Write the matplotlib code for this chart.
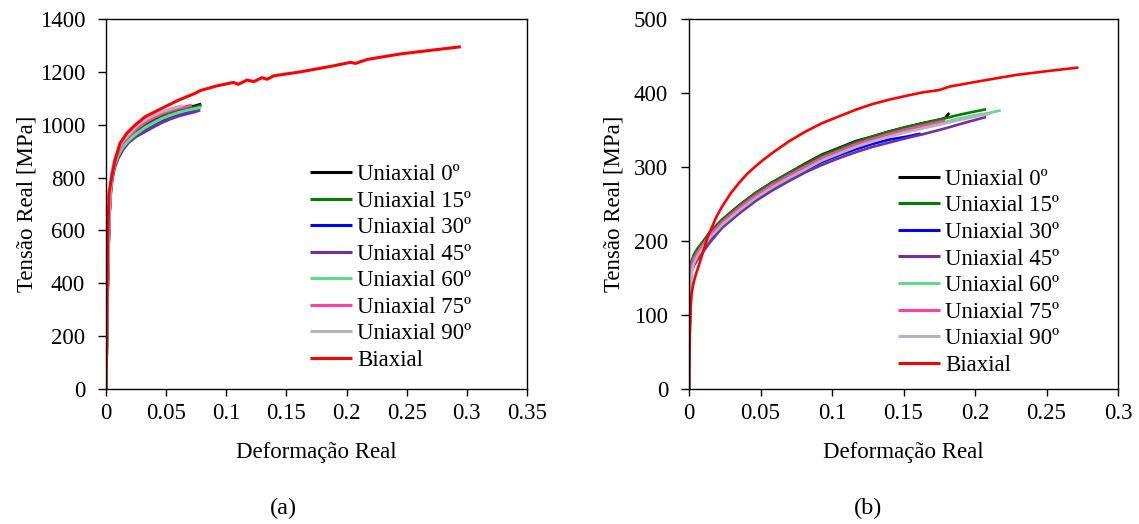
import matplotlib
matplotlib.use("Agg")
import matplotlib.pyplot as plt

plt.rcParams["font.family"] = ["Liberation Serif", "DejaVu Serif"]
plt.rcParams["font.size"] = 16.5

labels = ["Uniaxial 0º", "Uniaxial 15º", "Uniaxial 30º", "Uniaxial 45º",
          "Uniaxial 60º", "Uniaxial 75º", "Uniaxial 90º", "Biaxial"]
colors = ["#000000", "#008000", "#0000ff", "#7030a0",
          "#5edc8c", "#ff3fa0", "#b4b4bc", "#ff0000"]

# ---- (a) strain / stress curves ----
a_uni0_x = [0, 0.0008, 0.0015, 0.0025, 0.0035, 0.005, 0.007, 0.01, 0.014, 0.0186, 0.025,
            0.0325, 0.04, 0.0464, 0.053, 0.0603, 0.067, 0.0742, 0.0792]
a_uni0_y = [0, 250, 450, 640, 740, 810, 855, 893, 925, 948, 975,
            999, 1018, 1033, 1045, 1056, 1064, 1071, 1078]
a_uni15_x = [0, 0.0008, 0.0015, 0.0025, 0.0035, 0.005, 0.007, 0.01, 0.014, 0.0186, 0.025,
             0.0325, 0.04, 0.0464, 0.053, 0.0603, 0.067, 0.0742, 0.0792]
a_uni15_y = [0, 245, 445, 635, 735, 805, 850, 888, 920, 944, 970,
             994, 1013, 1028, 1040, 1051, 1059, 1066, 1073]
a_uni30_x = [0, 0.0008, 0.0015, 0.0025, 0.0035, 0.005, 0.007, 0.01, 0.014, 0.0186, 0.025,
             0.0325, 0.04, 0.0464, 0.053, 0.0603, 0.067, 0.0742, 0.078]
a_uni30_y = [0, 240, 440, 630, 730, 800, 845, 882, 912, 937, 962,
             986, 1004, 1019, 1031, 1042, 1050, 1057, 1062]
a_uni45_x = [0, 0.0008, 0.0015, 0.0025, 0.0035, 0.005, 0.007, 0.01, 0.014, 0.0186, 0.025,
             0.0325, 0.04, 0.0464, 0.053, 0.0603, 0.067, 0.0742, 0.0783]
a_uni45_y = [0, 235, 430, 620, 720, 790, 835, 872, 905, 932, 955,
             974, 993, 1008, 1021, 1033, 1041, 1049, 1056]
a_uni60_x = [0, 0.0008, 0.0015, 0.0025, 0.0035, 0.005, 0.007, 0.01, 0.014, 0.0186, 0.025,
             0.0325, 0.04, 0.0464, 0.053, 0.0603, 0.067, 0.0742, 0.079]
a_uni60_y = [0, 240, 440, 630, 732, 802, 846, 884, 915, 940, 965,
             989, 1008, 1023, 1035, 1046, 1054, 1061, 1066]
a_uni75_x = [0, 0.0008, 0.0015, 0.0025, 0.0035, 0.005, 0.007, 0.01, 0.014, 0.0186, 0.025,
             0.0325, 0.04, 0.0464, 0.053, 0.0603, 0.067, 0.0714]
a_uni75_y = [0, 250, 455, 645, 745, 815, 860, 898, 932, 955, 983,
             1008, 1027, 1041, 1052, 1062, 1069, 1074]
a_uni90_x = [0, 0.0008, 0.0015, 0.0025, 0.0035, 0.005, 0.007, 0.01, 0.014, 0.0186, 0.025,
             0.0325, 0.04, 0.0464, 0.053, 0.0603, 0.0636]
a_uni90_y = [0, 255, 460, 650, 752, 822, 868, 905, 940, 961, 993,
             1018, 1036, 1049, 1059, 1068, 1072]
a_biax_x = [0, 0.0005, 0.0014, 0.0025, 0.0047, 0.0075, 0.0117, 0.0172, 0.0242, 0.0325,
            0.0464, 0.0603, 0.0742, 0.0783, 0.0922, 0.106, 0.110, 0.1172, 0.1228, 0.1297,
            0.134, 0.1394, 0.1617, 0.1894, 0.2033, 0.2075, 0.2172, 0.245, 0.2728, 0.295]
a_biax_y = [0, 200, 552, 741, 803, 866, 930, 967, 999, 1030,
            1062, 1093, 1119, 1129, 1147, 1160, 1153, 1169, 1163, 1178,
            1172, 1185, 1200, 1223, 1236, 1232, 1247, 1268, 1283, 1295]

# ---- (b) strain / stress curves ----
b_uni0_x = [0, 0.0004, 0.0008, 0.0013, 0.002, 0.0035, 0.006, 0.01, 0.015, 0.0233, 0.035,
            0.0466, 0.058, 0.0699, 0.0816, 0.0932, 0.105, 0.1166, 0.128, 0.14, 0.152,
            0.163, 0.175, 0.179, 0.182]
b_uni0_y = [0, 70, 130, 160, 172, 180, 188, 199, 212, 229, 248,
            265, 279, 292, 305, 317, 326, 335, 341, 348, 354,
            359, 364, 366, 373]
b_uni15_x = [0, 0.0004, 0.0008, 0.0013, 0.002, 0.0035, 0.006, 0.01, 0.015, 0.0233, 0.035,
             0.0466, 0.058, 0.0699, 0.0816, 0.0932, 0.105, 0.1166, 0.128, 0.14, 0.152,
             0.163, 0.175, 0.1825, 0.19, 0.2, 0.2077]
b_uni15_y = [0, 72, 132, 162, 174, 182, 190, 200, 213, 229, 248,
             265, 279, 292, 304, 316, 325, 334, 341, 348, 354,
             359, 364, 367.5, 371, 375, 378]
b_uni30_x = [0, 0.0004, 0.0008, 0.0013, 0.002, 0.0035, 0.006, 0.01, 0.015, 0.0233, 0.035,
             0.0466, 0.058, 0.0699, 0.0816, 0.0932, 0.105, 0.1166, 0.128, 0.14, 0.152, 0.162]
b_uni30_y = [0, 65, 122, 152, 164, 172, 180, 191, 203, 220, 239,
             256, 270, 284, 296, 307, 316, 324, 331, 337, 341, 345]
b_uni45_x = [0, 0.0004, 0.0008, 0.0013, 0.002, 0.0035, 0.006, 0.01, 0.015, 0.0233, 0.035,
             0.0466, 0.058, 0.0699, 0.0816, 0.0932, 0.105, 0.1166, 0.128, 0.14, 0.152,
             0.163, 0.175, 0.1825, 0.195, 0.2077]
b_uni45_y = [0, 62, 118, 148, 160, 167, 175, 186, 199, 218, 237,
             254, 268, 281, 293, 303, 312, 320, 327, 333, 339,
             344, 350, 354, 361, 367.5]
b_uni60_x = [0, 0.0004, 0.0008, 0.0013, 0.002, 0.0035, 0.006, 0.01, 0.015, 0.0233, 0.035,
             0.0466, 0.058, 0.0699, 0.0816, 0.0932, 0.105, 0.1166, 0.128, 0.14, 0.152,
             0.163, 0.175, 0.19, 0.2, 0.21, 0.218]
b_uni60_y = [0, 68, 126, 156, 168, 176, 184, 195, 208, 225, 244,
             261, 275, 288, 300, 311, 320, 329, 336, 343, 349,
             354, 359, 366, 370, 373, 376.5]
b_uni75_x = [0, 0.0004, 0.0008, 0.0013, 0.002, 0.0035, 0.006, 0.01, 0.015, 0.0233, 0.035,
             0.0466, 0.058, 0.0699, 0.0816, 0.0932, 0.105, 0.1166, 0.128, 0.14, 0.152,
             0.163, 0.179]
b_uni75_y = [0, 68, 127, 157, 169, 177, 185, 196, 209, 226, 245,
             262, 276, 289, 301, 313, 322, 331, 338, 345, 351,
             356, 363]
b_uni90_x = [0, 0.0004, 0.0008, 0.0013, 0.002, 0.0035, 0.006, 0.01, 0.015, 0.0233, 0.035,
             0.0466, 0.058, 0.0699, 0.0816, 0.0932, 0.105, 0.1166, 0.128, 0.14, 0.152,
             0.163, 0.175, 0.19, 0.2, 0.2105]
b_uni90_y = [0, 60, 112, 142, 158, 170, 180, 192, 205, 222, 241,
             258, 272, 285, 297, 309, 318, 327, 334, 341, 347,
             352, 357, 364, 368, 372]
b_biax_x = [0, 0.0003, 0.0007, 0.0012, 0.0019, 0.003, 0.0045, 0.0075, 0.0105, 0.013,
            0.0163, 0.0195, 0.0233, 0.029, 0.035, 0.0408, 0.0466, 0.0525, 0.0583, 0.0699,
            0.0816, 0.0932, 0.1049, 0.1166, 0.1282, 0.14, 0.1515, 0.163, 0.175, 0.1825,
            0.206, 0.229, 0.2524, 0.2723]
b_biax_y = [0, 40, 85, 112, 130, 142, 153, 171, 189, 205,
            220, 234, 247, 264, 278.5, 291, 301, 310.5, 319, 334.7,
            348, 359.4, 368.4, 377.4, 385, 391, 396, 400.7, 404, 408.8,
            416.9, 424.5, 430, 434.4]

panel_a = [(a_uni0_x, a_uni0_y), (a_uni15_x, a_uni15_y), (a_uni30_x, a_uni30_y),
           (a_uni45_x, a_uni45_y), (a_uni60_x, a_uni60_y), (a_uni75_x, a_uni75_y),
           (a_uni90_x, a_uni90_y), (a_biax_x, a_biax_y)]
panel_b = [(b_uni0_x, b_uni0_y), (b_uni15_x, b_uni15_y), (b_uni30_x, b_uni30_y),
           (b_uni45_x, b_uni45_y), (b_uni60_x, b_uni60_y), (b_uni75_x, b_uni75_y),
           (b_uni90_x, b_uni90_y), (b_biax_x, b_biax_y)]

a_xticks = [0, 0.05, 0.1, 0.15, 0.2, 0.25, 0.3, 0.35]
a_xlabels = ["0", "0.05", "0.1", "0.15", "0.2", "0.25", "0.3", "0.35"]
a_yticks = [0, 200, 400, 600, 800, 1000, 1200, 1400]
b_xticks = [0, 0.05, 0.1, 0.15, 0.2, 0.25, 0.3]
b_xlabels = ["0", "0.05", "0.1", "0.15", "0.2", "0.25", "0.3"]
b_yticks = [0, 100, 200, 300, 400, 500]

fig = plt.figure(figsize=(11.39, 5.24), dpi=100)
ax_a = fig.add_axes([106 / 1139, 1 - 389 / 524, 421 / 1139, 370 / 524])
ax_b = fig.add_axes([689 / 1139, 1 - 389 / 524, 429 / 1139, 370 / 524])


def draw(ax, series, lw, xticks, xlabels, yticks, xmax, ymax, ylab_x, leg_xy):
    for (xs, ys), c, lab in zip(series, colors, labels):
        ax.plot(xs, ys, color=c, lw=lw, label=lab, solid_capstyle="butt")
    ax.set_xlim(0, xmax)
    ax.set_ylim(0, ymax)
    ax.set_xticks(xticks)
    ax.set_xticklabels(xlabels)
    ax.set_yticks(yticks)
    ax.tick_params(axis="x", direction="out", length=5, width=1, pad=5)
    ax.tick_params(axis="y", direction="out", length=5.5, width=1, pad=9.5)
    for s in ax.spines.values():
        s.set_linewidth(1.0)
    ax.set_xlabel("Deformação Real")
    ax.set_ylabel("Tensão Real [MPa]")
    ax.xaxis.set_label_coords(0.5, -0.143)
    ax.yaxis.set_label_coords(ylab_x, 0.5)
    leg = ax.legend(loc="upper left", bbox_to_anchor=leg_xy, frameon=False,
                    borderpad=0, borderaxespad=0, labelspacing=0.24,
                    handlelength=1.85, handletextpad=0.2)
    for h in leg.get_lines():
        h.set_linewidth(2.2)


draw(ax_a, panel_a, 2.2, a_xticks, a_xlabels, a_yticks, 0.35, 1400, -0.1635, (0.4846, 0.608))
draw(ax_b, panel_b, 1.9, b_xticks, b_xlabels, b_yticks, 0.3, 500, -0.15, (0.4872, 0.595))

fig.text(283 / 1139, 1 - 508 / 524, "(a)", ha="center", va="center", fontsize=17.5)
fig.text(868 / 1139, 1 - 508 / 524, "(b)", ha="center", va="center", fontsize=17.5)

fig.savefig("out.png", dpi=100)
